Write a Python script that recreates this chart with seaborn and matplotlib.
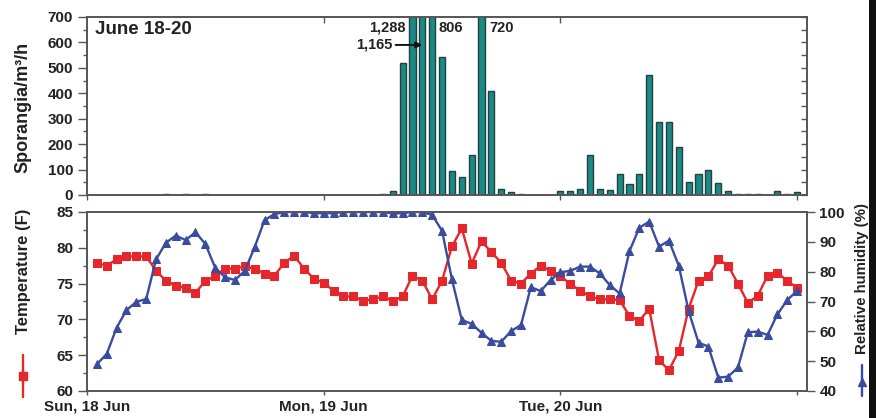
import matplotlib
matplotlib.use("Agg")
import matplotlib.pyplot as plt
import seaborn as sns
import numpy as np
from matplotlib.lines import Line2D
from matplotlib.patches import Rectangle
from matplotlib.ticker import MultipleLocator

# ---------------- data ----------------
day_ticks = [0, 24, 48, 72]
day_labels = ["Sun, 18 Jun", "Mon, 19 Jun", "Tue, 20 Jun", ""]

hours = list(range(1, 73))
temperature = [77.9, 77.5, 78.4, 78.8, 78.8, 78.8, 76.8, 75.4, 74.7, 74.4,
               73.7, 75.4, 76.0, 77.1, 77.1, 77.4, 77.1, 76.4, 76.1, 77.9,
               78.9, 77.1, 75.7, 75.1, 74.0, 73.2, 73.2, 72.6, 72.8, 73.2,
               72.6, 73.2, 76.1, 75.4, 72.8, 75.4, 80.2, 82.7, 77.8, 80.9,
               79.4, 77.9, 75.4, 75.0, 76.4, 77.5, 76.8, 76.0, 75.0, 74.0,
               73.2, 72.8, 72.8, 72.7, 70.5, 69.8, 71.5, 64.3, 62.9, 65.6,
               71.5, 75.4, 76.0, 78.4, 77.5, 75.0, 72.3, 73.3, 76.1, 76.5,
               75.4, 74.4]
humidity = [49.0, 52.4, 61.2, 67.1, 69.9, 70.8, 84.1, 89.7, 92.1, 90.6,
            93.2, 89.3, 81.3, 78.1, 77.2, 80.3, 88.2, 97.3, 99.3, 100.0,
            100.0, 100.0, 99.6, 99.6, 99.6, 100.0, 100.0, 100.0, 100.0, 100.0,
            99.5, 99.6, 100.0, 100.0, 99.0, 93.7, 77.4, 63.8, 62.5, 59.5,
            56.8, 56.5, 60.1, 62.1, 74.8, 73.5, 77.2, 79.8, 80.3, 81.7,
            81.7, 79.4, 75.5, 72.7, 86.9, 94.7, 96.8, 88.4, 90.4, 82.0,
            66.8, 56.2, 54.9, 44.5, 44.8, 47.9, 59.7, 59.9, 58.8, 65.7,
            70.5, 73.6]

spore_hours = [8, 10, 12, 30, 31, 32, 33, 34, 35, 36, 37, 38, 39, 40, 41, 42,
               43, 44, 48, 49, 50, 51, 52, 53, 54, 55, 56, 57, 58, 59, 60, 61,
               62, 63, 64, 65, 66, 67, 68, 70, 71, 72]
spore_counts = [3, 3, 3, 4, 15, 520, 1288, 1165, 806, 544, 94, 72, 157, 720,
                409, 25, 11, 5, 16, 16, 25, 157, 25, 20, 84, 42, 84, 472, 287,
                287, 189, 52, 84, 100, 47, 16, 5, 5, 5, 16, 5, 10]

# ---------------- style ----------------
sns.set_theme(style="white")
plt.rcParams["font.family"] = ["Liberation Sans", "DejaVu Sans"]
plt.rcParams["font.weight"] = "bold"
plt.rcParams["axes.labelweight"] = "bold"

RED = "#e5262a"
BLUE = "#3a4c9e"
TEAL = "#1b8a84"
TEAL_EDGE = "#24403e"
SPINE = "#555555"
TXT = "#222222"
TICKFS = 11

W, H = 876, 418
fig = plt.figure(figsize=(W / 100, H / 100), dpi=100)
x0, x1 = 87, 807
ax1 = fig.add_axes([x0 / W, 1 - 195 / H, (x1 - x0) / W, (195 - 17) / H])
ax2 = fig.add_axes([x0 / W, 1 - 391 / H, (x1 - x0) / W, (391 - 212) / H])

# ---------------- top: sporangia bars ----------------
sns.barplot(x=spore_hours, y=spore_counts, native_scale=True, width=0.62,
            color=TEAL, saturation=1, edgecolor=TEAL_EDGE, linewidth=1.0,
            errorbar=None, ax=ax1)
ax1.set_xlim(0, 73)
ax1.set_ylim(0, 700)
ax1.set_xlabel("")
ax1.set_ylabel("")
ax1.yaxis.set_major_locator(MultipleLocator(100))
ax1.yaxis.set_minor_locator(MultipleLocator(50))
ax1.set_xticks(day_ticks)
ax1.set_xticklabels([])
ax1.tick_params(axis="y", which="major", left=True, length=6.5, width=1,
                color=SPINE, labelsize=TICKFS, labelcolor=TXT, pad=3.5)
ax1.tick_params(axis="y", which="minor", left=True, length=3, width=1, color=SPINE)
ax1.tick_params(axis="x", which="major", bottom=True, length=3.5, width=1, color=SPINE)
for lab in ax1.get_yticklabels():
    lab.set_fontweight("bold")
# inward ticks on right and top
ax1r = ax1.twinx()
ax1r.set_ylim(0, 700)
ax1r.yaxis.set_major_locator(MultipleLocator(100))
ax1r.yaxis.set_minor_locator(MultipleLocator(50))
ax1r.tick_params(axis="y", which="both", direction="in", length=4, width=1,
                 color=SPINE, labelright=False)
ax1t = ax1.secondary_xaxis("top")
ax1t.set_xticks(day_ticks[1:3])
ax1t.tick_params(direction="in", length=4, width=1, color=SPINE, labeltop=False)
for a in (ax1, ax1r):
    for s in a.spines.values():
        s.set_color(SPINE)
        s.set_linewidth(1.2)
ax1t.spines["top"].set_visible(False)

ax1.text(0.011, 0.927, "June 18-20", transform=ax1.transAxes, fontsize=13.5,
         fontweight="bold", color=TXT, ha="left", va="center")

# value annotations for truncated bars
cnt = dict(zip(spore_hours, spore_counts))
ann_kw = dict(fontsize=10.5, fontweight="bold", color=TXT, va="center",
              textcoords="offset pixels", xycoords=("data", "axes fraction"))
ax1.annotate(f"{cnt[33]:,}", xy=(33, 0.94), xytext=(-7, 0), ha="right", **ann_kw)
ax1.annotate(f"{cnt[35]:,}", xy=(35, 0.94), xytext=(6, 0), ha="left", **ann_kw)
ax1.annotate(f"{cnt[40]:,}", xy=(40, 0.94), xytext=(8, 0), ha="left", **ann_kw)
ax1.annotate(f"{cnt[34]:,}", xy=(34, 0.843), xytext=(-30, 0), ha="right",
             arrowprops=dict(arrowstyle="-|>", color="#111111", lw=1.4,
                             mutation_scale=9, shrinkA=0, shrinkB=0),
             **ann_kw)

fig.text(23 / W, 1 - 107 / H, "Sporangia/m³/h", rotation=90, ha="center",
         va="center", fontsize=13, fontweight="bold", color=TXT)

# ---------------- bottom: temperature & humidity ----------------
sns.lineplot(x=hours, y=temperature, ax=ax2, color=RED, marker="s",
             markersize=5.8, markeredgecolor=RED, linewidth=1.7)
ax2.set_xlim(0, 73)
ax2.set_ylim(60, 85)
ax2.set_xlabel("")
ax2.set_ylabel("")
ax2.set_xticks(day_ticks)
ax2.set_xticklabels(day_labels, fontsize=TICKFS, fontweight="bold", color=TXT)
ax2.yaxis.set_major_locator(MultipleLocator(5))
ax2.yaxis.set_minor_locator(MultipleLocator(2.5))
ax2.tick_params(axis="x", which="major", bottom=True, length=3, width=1,
                color=SPINE, pad=3)
ax2.tick_params(axis="y", which="major", left=True, length=6.5, width=1,
                color=SPINE, labelsize=TICKFS, labelcolor=TXT, pad=3.5)
ax2.tick_params(axis="y", which="minor", left=True, length=3, width=1, color=SPINE)
for lab in ax2.get_yticklabels():
    lab.set_fontweight("bold")

ax3 = ax2.twinx()
sns.lineplot(x=hours, y=humidity, ax=ax3, color=BLUE, marker="^",
             markersize=5.8, markeredgecolor=BLUE, linewidth=1.7)
ax3.set_ylim(40, 100)
ax3.set_ylabel("")
ax3.yaxis.set_major_locator(MultipleLocator(10))
ax3.tick_params(axis="y", which="major", right=True, length=6, width=1,
                color=SPINE, labelsize=TICKFS, labelcolor=TXT, pad=3)
for lab in ax3.get_yticklabels():
    lab.set_fontweight("bold")
for a in (ax2, ax3):
    for s in a.spines.values():
        s.set_color(SPINE)
        s.set_linewidth(1.2)

# axis titles with legend keys
fig.text(24 / W, 1 - 271 / H, "Temperature (F)", rotation=90, ha="center",
         va="center", fontsize=12, fontweight="bold", color=TXT)
fig.add_artist(Line2D([23 / W, 23 / W], [1 - 355 / H, 1 - 397 / H],
                      transform=fig.transFigure, color=RED, lw=1.7))
fig.add_artist(Line2D([23 / W], [1 - 376 / H], transform=fig.transFigure,
                      color=RED, marker="s", markersize=5.8, lw=0))
fig.text(862 / W, 1 - 278 / H, "Relative humidity (%)", rotation=90,
         ha="center", va="center", fontsize=10.8, fontweight="bold", color=TXT)
fig.add_artist(Line2D([862 / W, 862 / W], [1 - 365 / H, 1 - 396 / H],
                      transform=fig.transFigure, color=BLUE, lw=1.7))
fig.add_artist(Line2D([862 / W], [1 - 382 / H], transform=fig.transFigure,
                      color=BLUE, marker="^", markersize=5.8, lw=0))

# dark scan border on the right edge
fig.add_artist(Rectangle((869 / W, 0), 7 / W, 1, transform=fig.transFigure,
                         facecolor="#111111", edgecolor="none"))

fig.savefig("out.png", dpi=100)
